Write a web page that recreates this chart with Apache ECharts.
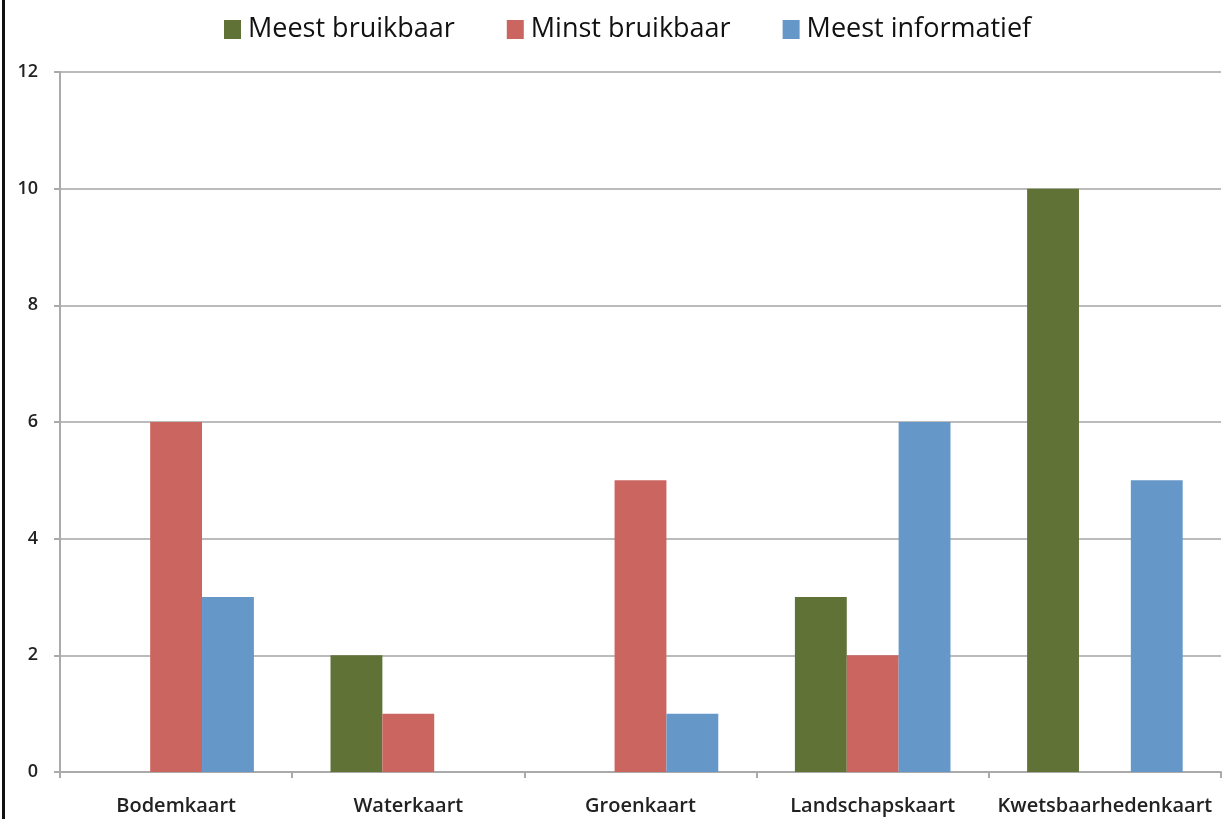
<!DOCTYPE html>
<html><head><meta charset="utf-8">
<script src="https://cdn.jsdelivr.net/npm/echarts@6/dist/echarts.min.js"></script>
<style>html,body{margin:0;padding:0;background:#fff}#c{width:1226px;height:819px}</style>
</head><body><div id="c"></div>
<script>
const categories = ['Bodemkaart','Waterkaart','Groenkaart','Landschapskaart','Kwetsbaarhedenkaart'];
const meestBruikbaar = [0, 2, 0, 3, 10];
const minstBruikbaar = [6, 1, 5, 2, 0];
const meestInformatief = [3, 0, 1, 6, 5];
const yTicks = [0, 2, 4, 6, 8, 10, 12];

const chart = echarts.init(document.getElementById('c'));
const font = '"Open Sans", Lato, sans-serif';
chart.setOption({
  animation: false,
  textStyle: {fontFamily: font},
  legend: {
    top: 11, left: 219,
    itemWidth: 17, itemHeight: 19, itemGap: 52,
    icon: 'rect',
    textStyle: {fontSize: 27, color: '#111', fontFamily: font, padding: [0, 0, 0, 2]},
    data: ['Meest bruikbaar','Minst bruikbaar','Meest informatief']
  },
  graphic: [{type: 'rect', shape: {x: 2, y: 0, width: 3, height: 819}, style: {fill: '#111'}}],
  grid: {left: 60, right: 5, top: 72, bottom: 47},
  xAxis: {
    type: 'category', data: categories,
    axisLine: {lineStyle: {color: '#aaa', width: 2}},
    axisTick: {show: true, length: 6, interval: 0, lineStyle: {color: '#aaa', width: 2}},
    axisLabel: {fontSize: 20, fontWeight: 600, color: '#222', margin: 24, interval: 0, fontFamily: font}
  },
  yAxis: {
    type: 'value', min: 0, max: 12, interval: 2,
    axisLine: {show: true, lineStyle: {color: '#aaa', width: 2}},
    axisTick: {show: true, length: 6, lineStyle: {color: '#aaa', width: 2}},
    splitLine: {lineStyle: {color: '#bbb', width: 2}},
    axisLabel: {fontSize: 18, fontWeight: 600, color: '#222', margin: 22, fontFamily: font,
      formatter: v => yTicks.includes(v) ? String(v) : ''}
  },
  series: [
    {name: 'Meest bruikbaar', type: 'bar', data: meestBruikbaar, itemStyle: {color: '#617237'}, barGap: '0%', barCategoryGap: '33%'},
    {name: 'Minst bruikbaar', type: 'bar', data: minstBruikbaar, itemStyle: {color: '#CB6560'}},
    {name: 'Meest informatief', type: 'bar', data: meestInformatief, itemStyle: {color: '#6597C9'}}
  ]
});
</script></body></html>
